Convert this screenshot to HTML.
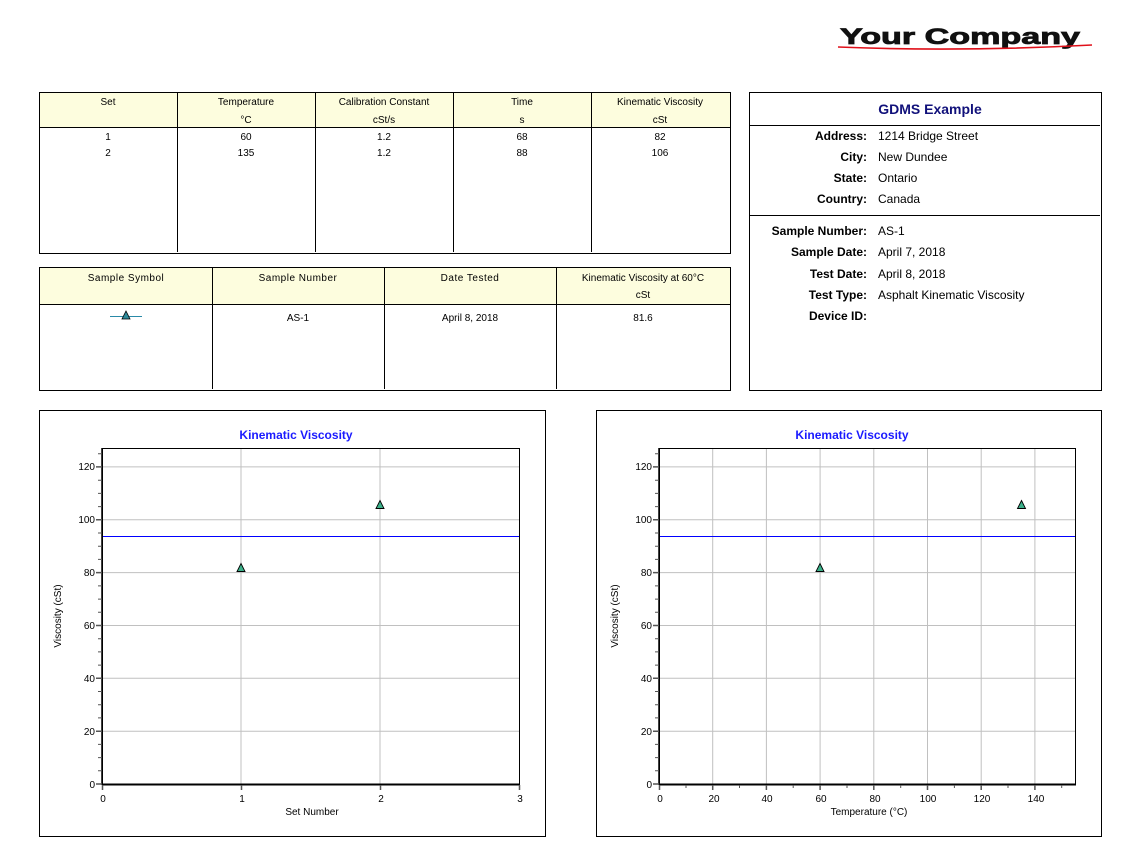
<!DOCTYPE html>
<html><head><meta charset="utf-8"><style>
html,body{margin:0;padding:0;background:#fff}
svg{display:block;font-family:"Liberation Sans",Arial,sans-serif}
</style></head><body>
<svg width="1134" height="863" viewBox="0 0 1134 863" xmlns="http://www.w3.org/2000/svg">
<rect width="1134" height="863" fill="#fff"/>
<!-- logo -->
<text x="840" y="44" font-size="22" font-weight="bold" fill="#111" textLength="240" lengthAdjust="spacingAndGlyphs" stroke="#111" stroke-width="0.8">Your Company</text>
<path d="M838 47 Q960 52 1092 45" stroke="#e0101a" stroke-width="1.6" fill="none"/>

<!-- Table 1 -->
<rect x="39.5" y="92.5" width="691" height="35" fill="#fdfdde"/>
<rect x="39.5" y="92.5" width="691" height="161" fill="none" stroke="#000"/>
<line x1="39" y1="127.5" x2="730" y2="127.5" stroke="#000"/>
<g stroke="#000"><line x1="177.5" y1="92" x2="177.5" y2="252"/><line x1="315.5" y1="92" x2="315.5" y2="252"/><line x1="453.5" y1="92" x2="453.5" y2="252"/><line x1="591.5" y1="92" x2="591.5" y2="252"/></g>
<g font-size="10" text-anchor="middle" fill="#000">
<text x="108" y="105">Set</text>
<text x="246" y="105">Temperature</text><text x="246" y="123">°C</text>
<text x="384" y="105">Calibration Constant</text><text x="384" y="123">cSt/s</text>
<text x="522" y="105">Time</text><text x="522" y="123">s</text>
<text x="660" y="105">Kinematic Viscosity</text><text x="660" y="123">cSt</text>
<text x="108" y="140">1</text><text x="246" y="140">60</text><text x="384" y="140">1.2</text><text x="522" y="140">68</text><text x="660" y="140">82</text>
<text x="108" y="156">2</text><text x="246" y="156">135</text><text x="384" y="156">1.2</text><text x="522" y="156">88</text><text x="660" y="156">106</text>
</g>

<!-- Table 2 -->
<rect x="39.5" y="267.5" width="691" height="37" fill="#fdfdde"/>
<rect x="39.5" y="267.5" width="691" height="123" fill="none" stroke="#000"/>
<line x1="39" y1="304.5" x2="730" y2="304.5" stroke="#000"/>
<g stroke="#000"><line x1="212.5" y1="267" x2="212.5" y2="389"/><line x1="384.5" y1="267" x2="384.5" y2="389"/><line x1="556.5" y1="267" x2="556.5" y2="389"/></g>
<g font-size="10" text-anchor="middle" fill="#000">
<text x="126" y="281" letter-spacing="0.5">Sample Symbol</text>
<text x="298" y="281" letter-spacing="0.5">Sample Number</text>
<text x="470" y="281" letter-spacing="0.5">Date Tested</text>
<text x="643" y="281">Kinematic Viscosity at 60°C</text><text x="643" y="298">cSt</text>
<text x="298" y="321">AS-1</text><text x="470" y="321">April 8, 2018</text><text x="643" y="321">81.6</text>
</g>
<line x1="110" y1="316.5" x2="142" y2="316.5" stroke="#2a8aa8"/>
<path d="M126 311 L130 319 L122 319 Z" fill="#2e8a9a" stroke="#000" stroke-width="0.8"/>

<!-- Info panel -->
<rect x="749.5" y="92.5" width="352" height="298" fill="none" stroke="#000"/>
<line x1="750" y1="125.5" x2="1100" y2="125.5" stroke="#000"/>
<line x1="750" y1="215.5" x2="1100" y2="215.5" stroke="#000"/>
<text x="930" y="114" font-size="14" font-weight="bold" fill="#10107a" text-anchor="middle">GDMS Example</text>
<g font-size="12" fill="#000">
<g font-weight="bold" text-anchor="end">
<text x="867" y="140">Address:</text><text x="867" y="161">City:</text><text x="867" y="182">State:</text><text x="867" y="203">Country:</text>
<text x="867" y="235">Sample Number:</text><text x="867" y="256">Sample Date:</text><text x="867" y="278">Test Date:</text><text x="867" y="299">Test Type:</text><text x="867" y="320">Device ID:</text>
</g>
<text x="878" y="140">1214 Bridge Street</text><text x="878" y="161">New Dundee</text><text x="878" y="182">Ontario</text><text x="878" y="203">Canada</text>
<text x="878" y="235">AS-1</text><text x="878" y="256">April 7, 2018</text><text x="878" y="278">April 8, 2018</text><text x="878" y="299">Asphalt Kinematic Viscosity</text>
</g>

<!-- Chart 1 -->
<rect x="39.5" y="410.5" width="506" height="426" fill="none" stroke="#000"/>
<text x="296" y="439" font-size="12" font-weight="bold" fill="#1a1aff" text-anchor="middle">Kinematic Viscosity</text>
<g stroke="#c0c0c0">
<line x1="102" y1="731.2" x2="519" y2="731.2"/><line x1="102" y1="678.3" x2="519" y2="678.3"/><line x1="102" y1="625.5" x2="519" y2="625.5"/><line x1="102" y1="572.6" x2="519" y2="572.6"/><line x1="102" y1="519.8" x2="519" y2="519.8"/><line x1="102" y1="466.9" x2="519" y2="466.9"/>
<line x1="241" y1="448" x2="241" y2="784"/><line x1="380" y1="448" x2="380" y2="784"/>
</g>
<line x1="102" y1="536.5" x2="519" y2="536.5" stroke="#0000ff"/>
<rect x="102.5" y="448.5" width="417" height="336" fill="none" stroke="#000"/>
<line x1="102" y1="784.5" x2="520" y2="784.5" stroke="#000" stroke-width="2"/>
<line x1="102" y1="448" x2="102" y2="785" stroke="#000" stroke-width="1.5"/>
<path d="M98 770.8h4M98 757.6h4M98 744.4h4M98 717.9h4M98 704.7h4M98 691.5h4M98 665.1h4M98 651.9h4M98 638.7h4M98 612.3h4M98 599.1h4M98 585.9h4M98 559.4h4M98 546.2h4M98 533h4M98 506.6h4M98 493.4h4M98 480.2h4M98 453.7h4" stroke="#555"/>
<path d="M96 784h6M96 731.2h6M96 678.3h6M96 625.5h6M96 572.6h6M96 519.8h6M96 466.9h6M102.5 785v5M241.5 785v5M380.5 785v5M519.5 785v5" stroke="#555" stroke-width="1.5"/>
<g font-size="10" text-anchor="end" fill="#000">
<text x="95" y="788">0</text><text x="95" y="735">20</text><text x="95" y="682">40</text><text x="95" y="629">60</text><text x="95" y="576">80</text><text x="95" y="523">100</text><text x="95" y="470">120</text>
</g>
<g font-size="10" text-anchor="middle" fill="#000">
<text x="103" y="802">0</text><text x="242" y="802">1</text><text x="381" y="802">2</text><text x="520" y="802">3</text>
<text x="312" y="815">Set Number</text>
</g>
<text transform="translate(61,616) rotate(-90)" font-size="10" text-anchor="middle">Viscosity (cSt)</text>
<path d="M241 563.5 L245 571.5 L237 571.5 Z" fill="#3cb08a" stroke="#000" stroke-width="0.9"/>
<path d="M380 500.5 L384 508.5 L376 508.5 Z" fill="#3cb08a" stroke="#000" stroke-width="0.9"/>

<!-- Chart 2 -->
<rect x="596.5" y="410.5" width="505" height="426" fill="none" stroke="#000"/>
<text x="852" y="439" font-size="12" font-weight="bold" fill="#1a1aff" text-anchor="middle">Kinematic Viscosity</text>
<g stroke="#c0c0c0">
<line x1="659" y1="731.2" x2="1075" y2="731.2"/><line x1="659" y1="678.3" x2="1075" y2="678.3"/><line x1="659" y1="625.5" x2="1075" y2="625.5"/><line x1="659" y1="572.6" x2="1075" y2="572.6"/><line x1="659" y1="519.8" x2="1075" y2="519.8"/><line x1="659" y1="466.9" x2="1075" y2="466.9"/>
<line x1="712.7" y1="448" x2="712.7" y2="784"/><line x1="766.4" y1="448" x2="766.4" y2="784"/><line x1="820.1" y1="448" x2="820.1" y2="784"/><line x1="873.8" y1="448" x2="873.8" y2="784"/><line x1="927.5" y1="448" x2="927.5" y2="784"/><line x1="981.2" y1="448" x2="981.2" y2="784"/><line x1="1034.9" y1="448" x2="1034.9" y2="784"/>
</g>
<line x1="659" y1="536.5" x2="1075" y2="536.5" stroke="#0000ff"/>
<rect x="659.5" y="448.5" width="416" height="336" fill="none" stroke="#000"/>
<line x1="659" y1="784.5" x2="1076" y2="784.5" stroke="#000" stroke-width="2"/>
<line x1="659" y1="448" x2="659" y2="785" stroke="#000" stroke-width="1.5"/>
<g transform="translate(557,0)">
<path d="M98 770.8h4M98 757.6h4M98 744.4h4M98 717.9h4M98 704.7h4M98 691.5h4M98 665.1h4M98 651.9h4M98 638.7h4M98 612.3h4M98 599.1h4M98 585.9h4M98 559.4h4M98 546.2h4M98 533h4M98 506.6h4M98 493.4h4M98 480.2h4M98 453.7h4" stroke="#555"/>
<path d="M96 784h6M96 731.2h6M96 678.3h6M96 625.5h6M96 572.6h6M96 519.8h6M96 466.9h6" stroke="#555" stroke-width="1.5"/>
</g>
<path d="M659.5 785v5M712.7 785v5M766.4 785v5M820.1 785v5M873.8 785v5M927.5 785v5M981.2 785v5M1034.9 785v5" stroke="#555" stroke-width="1.5"/>
<path d="M686 785v3M739.5 785v3M793.2 785v3M847 785v3M900.7 785v3M954.4 785v3M1008 785v3M1061.7 785v3" stroke="#555"/>
<g font-size="10" text-anchor="end" fill="#000">
<text x="652" y="788">0</text><text x="652" y="735">20</text><text x="652" y="682">40</text><text x="652" y="629">60</text><text x="652" y="576">80</text><text x="652" y="523">100</text><text x="652" y="470">120</text>
</g>
<g font-size="10" text-anchor="middle" fill="#000">
<text x="660" y="802">0</text><text x="714" y="802">20</text><text x="767" y="802">40</text><text x="821" y="802">60</text><text x="875" y="802">80</text><text x="928" y="802">100</text><text x="982" y="802">120</text><text x="1036" y="802">140</text>
<text x="869" y="815">Temperature (°C)</text>
</g>
<text transform="translate(618,616) rotate(-90)" font-size="10" text-anchor="middle">Viscosity (cSt)</text>
<path d="M820 563.5 L824 571.5 L816 571.5 Z" fill="#3cb08a" stroke="#000" stroke-width="0.9"/>
<path d="M1021.5 500.5 L1025.5 508.5 L1017.5 508.5 Z" fill="#3cb08a" stroke="#000" stroke-width="0.9"/>
</svg>
</body></html>
